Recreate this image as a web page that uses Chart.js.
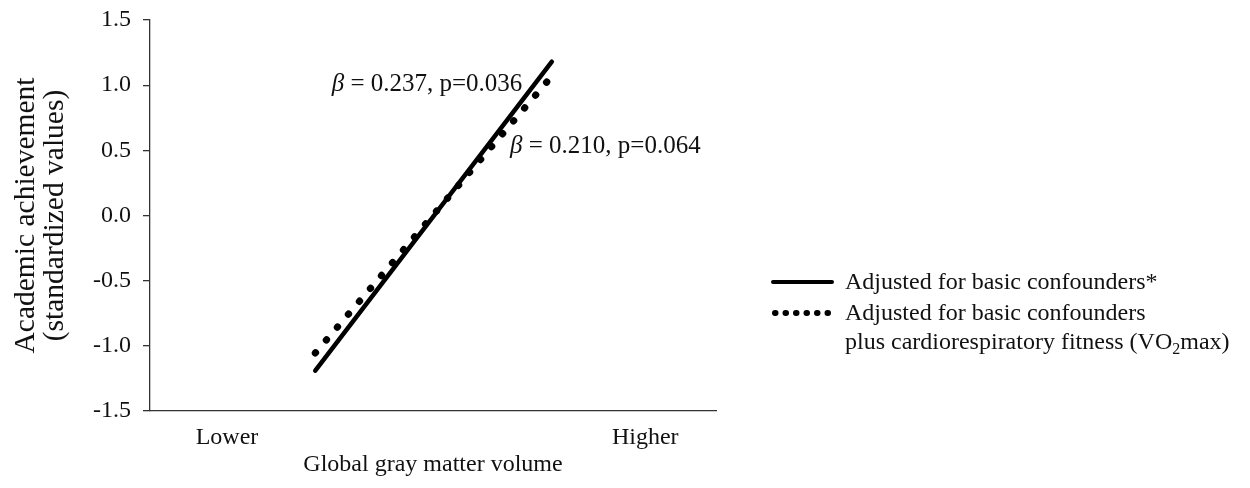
<!DOCTYPE html>
<html>
<head>
<meta charset="utf-8">
<title>Gray matter volume and academic achievement</title>
<script src="https://cdn.jsdelivr.net/npm/chart.js@4"></script>
<style>
  html, body { margin: 0; padding: 0; background: #fff; }
  #wrap { width: 1250px; height: 488px; }
</style>
</head>
<body>
<div id="wrap"><canvas id="chart" width="1250" height="488"></canvas></div>
<script>
// values (x axis runs 0..100 between its two ends)
const xTickLabels = ["Lower", "Higher"];
const xTickValues = [13.6, 87.5];
const yTickValues = [-1.5, -1.0, -0.5, 0.0, 0.5, 1.0, 1.5];

const basicX = [29.2, 71.0];
const basicY = [-1.19, 1.18];
const fitnessX = [29.2, 70.3];
const fitnessY = [-1.055, 1.034];

const seriesNames = [
  ["Adjusted for basic confounders*"],
  ["Adjusted for basic confounders", "plus cardiorespiratory fitness (VO|2|max)"]
];
const betaTexts = [" = 0.237, p=0.036", " = 0.210, p=0.064"];
const betaAnchorX = [32.1, 63.6];
const betaAnchorY = [0.955, 0.479];

const FONT = "'Liberation Serif', 'Times New Roman', serif";
const INK = "#111";

function toPoints(xs, ys) {
  return xs.map((x, i) => ({ x, y: ys[i] }));
}

const annotationPlugin = {
  id: "betaNotes",
  afterDatasetsDraw(chart) {
    const { ctx, scales } = chart;
    ctx.save();
    ctx.fillStyle = INK;
    ctx.textBaseline = "alphabetic";
    betaTexts.forEach((txt, i) => {
      const px = scales.x.getPixelForValue(betaAnchorX[i]);
      const py = scales.y.getPixelForValue(betaAnchorY[i]);
      ctx.font = "italic 25px " + FONT;
      ctx.fillText("\u03B2", px, py);
      const w = ctx.measureText("\u03B2").width;
      ctx.font = "25px " + FONT;
      ctx.fillText(txt, px + w, py);
    });
    ctx.restore();
  }
};

const legendPlugin = {
  id: "sideLegend",
  afterDraw(chart) {
    const { ctx } = chart;
    const sampleLeft = 773;
    const sampleRight = 832;
    const textLeft = 845;
    const rows = [282, 313];
    const lineGap = 29;
    ctx.save();
    chart.data.datasets.forEach((ds, i) => {
      const y = rows[i];
      ctx.strokeStyle = ds.borderColor;
      ctx.lineCap = "round";
      if (i === 0) {
        ctx.lineWidth = 4;
        ctx.setLineDash([]);
      } else {
        ctx.lineWidth = 6;
        ctx.setLineDash([0.5, 10]);
      }
      ctx.beginPath();
      ctx.moveTo(sampleLeft + (i ? 2 : 0), y);
      ctx.lineTo(sampleRight - (i ? 3 : 0), y);
      ctx.stroke();
      ctx.setLineDash([]);

      ctx.fillStyle = INK;
      ctx.textBaseline = "alphabetic";
      seriesNames[i].forEach((line, k) => {
        const base = y + 7 + k * lineGap;
        let x = textLeft;
        line.split("|").forEach((part, p) => {
          const sub = p % 2 === 1;
          ctx.font = (sub ? "16px " : "24px ") + FONT;
          ctx.fillText(part, x, base + (sub ? 5 : 0));
          x += ctx.measureText(part).width;
        });
      });
    });
    ctx.restore();
  }
};

new Chart(document.getElementById("chart"), {
  type: "line",
  data: {
    datasets: [
      {
        label: seriesNames[0].join(" "),
        data: toPoints(basicX, basicY),
        borderColor: "#000",
        borderWidth: 4.5,
        borderCapStyle: "round",
        pointRadius: 0,
        fill: false
      },
      {
        label: seriesNames[1].join(" ").replace(/\|/g, ""),
        data: toPoints(fitnessX, fitnessY),
        borderColor: "#000",
        borderWidth: 7,
        borderCapStyle: "round",
        borderDash: [0.5, 16.45],
        pointRadius: 0,
        fill: false
      }
    ]
  },
  options: {
    responsive: false,
    devicePixelRatio: 1,
    animation: false,
    layout: { padding: { top: 20, right: 534, left: 0, bottom: 0 } },
    plugins: {
      legend: { display: false },
      tooltip: { enabled: false }
    },
    scales: {
      x: {
        type: "linear",
        min: 0,
        max: 100,
        afterFit: (s) => { s.height = 77; s.paddingLeft = 0; s.paddingRight = 0; },
        afterBuildTicks: (s) => { s.ticks = xTickValues.map((v) => ({ value: v })); },
        grid: { display: false, drawTicks: false },
        border: { display: true, color: "#333", width: 1.3 },
        ticks: {
          padding: 12,
          color: INK,
          font: { family: FONT, size: 24 },
          maxRotation: 0,
          callback: (v, i) => xTickLabels[i]
        },
        title: {
          display: true,
          text: "Global gray matter volume",
          color: INK,
          font: { family: FONT, size: 24, lineHeight: 1.2 },
          padding: { top: 0, bottom: 9 }
        }
      },
      y: {
        type: "linear",
        min: -1.5,
        max: 1.5,
        afterFit: (s) => { s.width = 150; s.paddingTop = 0; s.paddingBottom = 0; },
        afterBuildTicks: (s) => { s.ticks = yTickValues.map((v) => ({ value: v })); },
        grid: { drawOnChartArea: false, drawTicks: true, tickLength: 7, color: "#333", lineWidth: 1.3 },
        border: { display: true, color: "#333", width: 1.3 },
        ticks: {
          padding: 12,
          color: INK,
          font: { family: FONT, size: 24 },
          callback: (v) => Number(v).toFixed(1)
        },
        title: {
          display: true,
          text: ["Academic achievement", "(standardized values)"],
          color: INK,
          font: { family: FONT, size: 29.5, lineHeight: 0.98 },
          padding: { top: 12, bottom: 0 }
        }
      }
    }
  },
  plugins: [annotationPlugin, legendPlugin]
});
</script>
</body>
</html>
